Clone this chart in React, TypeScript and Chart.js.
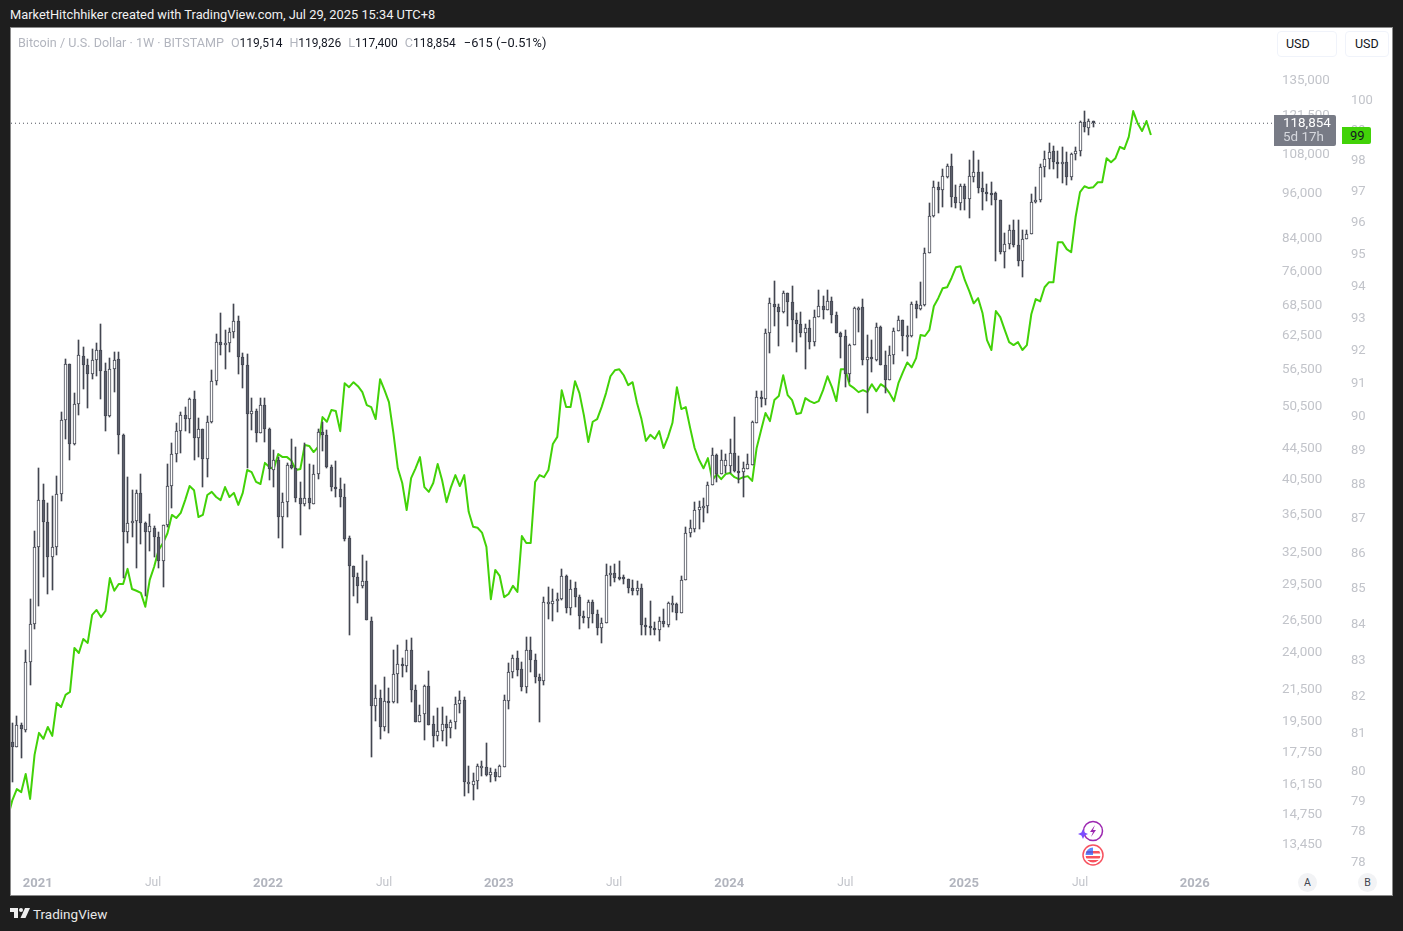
import React, { useEffect, useRef } from "react";
import { Chart, registerables } from "chart.js";

Chart.register(...registerables);

const closeSymbol = "Bitcoin / U.S. Dollar · 1W · BITSTAMP";
const attribution = "MarketHitchhiker created with TradingView.com, Jul 29, 2025 15:34 UTC+8";

const opens = [18360,18090,19330,19040,23380,26220,33070,38100,35670,32090,33070,38820,48520,57500,45140,50920,58900,57330,55790,58200,59950,56290,49110,56620,58380,46380,34600,35560,35770,38930,35560,34600,35020,34090,31710,35340,39760,43790,46940,49260,48660,51700,45950,47220,43130,48230,54640,61430,60880,61250,63320,65460,58730,57330,49410,49850,46660,50770,47220,41730,43000,36210,37870,42370,41980,38340,37650,38340,37650,41230,46800,46380,42110,39650,39410,38460,33980,31240,30220,29400,29850,26460,20470,20960,19210,20780,20720,22550,23240,23100,24240,21490,19500,19980,21750,19390,18700,18980,19390,19160,19500,20590,20840,16210,16140,16330,17060,17040,16630,16780,16530,17040,20780,22690,23660,22890,21690,24240,23520,22350,22080,28010,27850,28100,28270,30310,27510,29230,28440,26860,26700,28010,27030,25910,26300,30400,30580,30220,30220,30030,29230,28960,29230,26150,26070,25910,25750,26460,26150,27930,27850,27110,29940,34500,34920,36970,37420,37420,39890,43660,41230,42240,42240,43920,41600,41480,41850,42370,48090,52020,51700,63130,68880,68270,67250,71240,69290,65650,64870,63130,64090,61430,66250,68470,67650,69490,66650,63130,62590,55790,60880,68060,68270,58200,58730,58200,64280,57330,54800,59080,63510,65650,62750,62590,68880,67850,68670,80380,89880,98070,97200,101100,104540,95170,93460,98400,94580,101100,102680,97800,96620,96330,96330,94300,80620,82600,86150,82350,78470,83850,85130,93740,94300,104230,106730,109370,105780,105780,105780,101100,108380,109370,119340,117200,119514];
const highs = [19450,19860,19450,24240,28260,34710,41980,40010,37760,38580,41000,49700,58380,57500,52670,61800,60510,58380,60130,61250,64870,57680,58550,59600,59600,46520,40860,39290,39290,41230,35670,36530,35240,34600,35340,42490,45270,48090,49700,50460,51860,52990,48810,47220,49110,56450,62940,67050,63700,64090,68880,66450,59430,59250,51860,50150,51860,51860,47360,44320,43380,38930,42620,45820,44730,40250,45270,42490,42370,47220,48230,47080,42370,42870,40730,40010,34190,31240,30580,32290,31710,26780,21820,21490,22350,21620,24240,24620,23660,24990,25140,21820,20530,21820,22750,19860,20340,20400,19860,19620,21030,21420,21030,17090,16730,17190,17350,18300,16980,16930,17140,21170,23310,23880,24170,23380,25220,25220,23950,22550,28440,29320,29140,28790,30950,30400,29940,29760,28620,27270,28180,28180,27350,26700,31420,31240,31420,31710,30400,30030,29940,29850,29580,26700,28100,26380,26780,27430,28010,28530,27930,30310,35130,35880,37870,37990,38340,40250,44590,43790,44320,43790,45820,48960,43510,42750,43790,48380,52990,52990,63890,70110,73880,68880,71680,71240,72780,67050,67250,64870,65650,67650,71900,70580,71900,70360,67250,63320,63700,61070,68270,68270,69920,62750,61800,65070,64480,59780,60690,64090,66450,65650,64480,69290,69490,73660,81580,93460,99900,99600,103610,105160,108380,98700,99000,99000,106400,109370,106400,102680,99000,99600,96620,94300,85380,87480,88800,88800,86150,86150,96040,98100,105160,109370,112010,111020,109370,110690,109040,108710,110690,119700,123340,120420,119826];
const lows = [16240,18090,17500,18930,21820,25830,27680,30220,28700,29050,32290,37990,45820,43000,45000,49260,53310,50300,54970,55460,51700,46940,48960,52830,43790,30120,33480,34090,31050,33380,28530,32680,32090,31050,29320,35130,37200,42750,43920,46940,46660,43000,43380,39650,40860,48090,53980,59080,56620,59600,62180,55790,53470,41980,47080,45410,46660,45410,40490,39650,33980,32980,36210,41850,37870,34300,37420,37080,37650,40610,44190,41980,39170,38460,37310,33680,25370,28530,27930,29230,26540,17560,19560,18530,18980,18870,20660,20660,22350,22690,20720,19500,19500,18470,19330,18090,18410,18410,18140,18580,19100,20040,15610,15750,15420,15940,16580,16580,16240,16290,16530,17040,20280,22280,22420,21420,21300,22690,21950,19500,21820,26620,26460,27190,28180,27110,26950,27600,25830,26300,25910,26300,25370,24770,26300,29400,29760,29940,29580,28790,28620,28620,25370,25370,25370,25370,24920,25990,25990,27190,26540,27110,29940,34090,34600,34920,35670,36640,39890,40250,41230,41360,41360,41480,40130,38460,41850,42370,48090,50460,50770,59430,64480,60690,67050,64480,61430,59600,62360,56620,60130,60690,66250,65850,67650,65070,63130,58550,53640,54470,60880,63320,57330,49560,56120,58030,57330,52670,54800,57500,63510,59780,58900,62360,66050,67650,68470,80380,89610,90690,92310,100800,92310,92040,91500,91500,89340,99600,96330,91500,94020,92900,78470,80140,76800,81350,81850,77300,74770,83850,85130,93460,93740,101100,103610,103610,100800,99300,98700,100200,106400,107640,115800,114750,117400];
const closes = [18090,19330,19100,23380,26220,33070,38100,35670,32090,33070,38820,48520,57500,45140,50920,59080,57330,55790,58200,59950,56290,49110,56620,58200,46380,34600,35560,35770,38930,35560,34600,35240,34090,31710,35340,39760,43790,46940,49260,48660,51700,45950,47220,43130,48230,54640,61430,60880,61250,63320,65460,58730,57330,49410,49850,46660,50770,47220,41850,43000,36210,37870,42370,41980,38340,37650,38340,37760,41230,46800,46380,42110,39650,39410,38460,33880,31240,30220,29400,29850,26540,20470,20960,19210,20780,20750,22550,23240,23100,24240,21490,19500,19920,21750,19330,18700,18980,19390,19160,19500,20590,20840,16240,16240,16330,17090,17090,16630,16780,16530,17090,20840,22690,23660,22820,21690,24240,23520,22350,22080,28010,28040,28100,28270,30310,27510,29140,28440,26860,26700,28010,27030,25910,26300,30400,30580,30120,30180,30030,29230,28960,29230,26150,26070,25910,25750,26460,26220,27930,27960,27110,29940,34500,35020,36970,37310,37460,39890,43660,41230,43000,43000,43920,41600,41480,41980,42490,48230,52020,51700,63130,69090,68270,67250,71240,69290,65650,64870,63130,64090,61430,66250,68470,67650,69490,66650,63130,62360,55790,60880,68060,68100,58200,58730,58380,64280,57330,54800,59080,63510,65650,62590,62790,68880,67850,68670,80380,89880,98070,97200,101400,104540,95170,93460,98400,94580,101400,102680,97800,96620,96040,96290,94300,80620,82600,86150,82350,78470,83850,85130,93740,94300,104230,106730,109040,105780,105750,105800,101100,108380,109370,119340,117550,119700,118854];

const lineValues = [78.76,79.2,79.49,79.41,79.89,79.23,80.4,80.99,80.83,81.15,80.91,81.8,81.69,82.02,82.1,83.31,83.17,83.56,83.45,84.23,84.37,84.17,84.34,85.27,84.91,85.1,85.1,85.53,84.96,84.91,84.85,84.46,85.22,85.59,86.07,86.27,86.55,87.08,86.99,87.14,87.51,87.92,87.8,87.02,87.08,87.66,87.75,87.6,87.51,87.89,87.6,87.72,87.37,87.72,88.39,88.33,88.04,87.98,88.6,88.48,88.42,88.86,88.77,88.77,88.66,88.39,88.42,89.13,89.1,88.92,89.07,89.96,89.82,90.17,90.14,89.54,90.98,90.86,91.01,90.89,90.71,90.32,90.26,89.9,91.1,90.77,90.41,89.49,88.44,88.01,87.22,88.15,88.44,88.77,87.89,87.75,88.01,88.57,88.09,87.45,87.89,88.24,87.92,88.24,87.17,86.74,86.71,86.57,86.16,84.67,85.5,85.33,84.73,84.82,85.05,84.88,86.47,86.27,86.27,88.04,88.24,88.18,88.39,89.16,89.37,90.77,90.26,90.26,91.04,90.68,90.02,89.22,89.82,89.9,90.26,90.68,91.19,91.37,91.4,91.22,90.92,91.01,90.38,89.9,89.25,89.43,89.31,89.54,89.04,89.37,89.79,90.86,90.2,90.26,89.63,89.04,88.69,88.44,88.74,88.09,88.27,88.12,88.27,88.3,88.18,88.12,88.18,88.21,88.07,89.04,89.57,90.08,89.84,90.47,90.59,91.22,90.62,90.47,90.05,90.08,90.53,90.44,90.38,90.44,90.77,91.19,90.86,90.44,91.4,91.4,90.92,90.83,90.71,90.77,90.71,90.95,90.74,90.95,90.86,90.68,90.44,90.98,91.31,91.61,91.46,91.74,92.45,92.42,92.61,93.34,93.59,93.9,93.93,94.22,94.56,94.59,94.15,93.81,93.43,93.59,93.12,92.29,91.99,93.19,93,92.61,92.23,92.14,92.23,91.99,92.14,93.09,93.56,93.49,93.93,94.09,94.09,95.35,95.35,95.13,95.03,96.15,96.95,97.14,97.08,97.11,97.27,97.27,98.05,97.92,98.05,98.42,98.35,98.75,99.6,99.2,98.94,99.27,98.81];
const lineFirstWeek = -1;

const priceTicks = [135000,121500,108000,96000,84000,76000,68500,62500,56500,50500,44500,40500,36500,32500,29500,26500,24000,21500,19500,17750,16150,14750,13450];
const dxyTicks = [100,99,98,97,96,95,94,93,92,91,90,89,88,87,86,85,84,83,82,81,80,79.2,78.4,77.6];
const timeTickWeeks = [5.71,31.74,57.7,83.9,109.8,135.8,161.8,188,214.8,241,266.9];
const timeTickLabels = ["2021","Jul","2022","Jul","2023","Jul","2024","Jul","2025","Jul","2026"];

const UI_FONT = "Roboto, 'Noto Sans', sans-serif";
const GREEN = "#42d208";
const CANDLE_EDGE = "#434651";
const CANDLE_DOWN = "#5d606b";
const TICK_COLOR = "#c2c4ca";

const snapBars = {
  id: "snapBars",
  beforeDatasetsDraw(chart: any) {
    chart.getSortedVisibleDatasetMetas().forEach((meta: any) => {
      if (meta.type !== "bar") return;
      meta.data.forEach((el: any) => {
        el.x = Math.round(el.x - 0.5) + 0.5;
        const top = Math.round(Math.min(el.y, el.base));
        let bottom = Math.round(Math.max(el.y, el.base));
        const minSize = meta.index === 0 ? 2 : 1;
        if (bottom - top < minSize) bottom = top + minSize;
        el.y = top;
        el.base = bottom;
      });
    });
  },
};

const clearPadding = (s: any) => {
  s.paddingTop = 0;
  s.paddingBottom = 0;
  s.paddingLeft = 0;
  s.paddingRight = 0;
};

export default function App() {
  const ref = useRef<HTMLCanvasElement | null>(null);
  useEffect(() => {
    const xMin = -0.316;
    const xMax = 284.56;
    const bodies = opens.map((o, i) => ({ x: i, y: [o, closes[i]] }));
    const wicks = highs.map((h, i) => ({ x: i, y: [lows[i], h] }));
    const isYear = (c: any) => /\d/.test(String(c.tick?.label ?? ""));
    const chart = new Chart(ref.current as HTMLCanvasElement, {
      type: "bar",
      plugins: [snapBars],
      data: {
        datasets: [
          {
            label: "body",
            data: bodies as any,
            xAxisID: "x",
            yAxisID: "yPrice",
            barThickness: 3,
            grouped: false,
            borderWidth: 1,
            borderSkipped: false,
            borderColor: CANDLE_EDGE,
            backgroundColor: opens.map((o, i) => (closes[i] >= o ? "#ffffff" : CANDLE_DOWN)),
            order: 0,
          },
          {
            label: "wick",
            data: wicks as any,
            xAxisID: "x",
            yAxisID: "yPrice",
            barThickness: 1,
            grouped: false,
            borderWidth: 0,
            backgroundColor: CANDLE_EDGE,
            order: 1,
          },
          {
            type: "line",
            label: "line",
            data: lineValues.map((v, i) => ({ x: lineFirstWeek + i, y: v })) as any,
            xAxisID: "x",
            yAxisID: "yDxy",
            borderColor: GREEN,
            borderWidth: 2,
            pointRadius: 0,
            tension: 0,
            borderJoinStyle: "round",
            order: 2,
          },
          {
            type: "line",
            label: "last",
            data: [{ x: xMin, y: closes[closes.length - 1] }, { x: xMax, y: closes[closes.length - 1] }] as any,
            xAxisID: "x",
            yAxisID: "yPrice",
            borderColor: "#50535e",
            borderWidth: 1,
            borderDash: [1, 3],
            pointRadius: 0,
            order: 3,
          },
        ],
      },
      options: {
        animation: false,
        responsive: false,
        events: [],
        layout: { padding: 0 },
        plugins: { legend: { display: false }, tooltip: { enabled: false } },
        scales: {
          x: {
            type: "linear",
            position: "bottom",
            offset: false,
            min: xMin,
            max: xMax,
            grid: { display: false, drawTicks: false },
            border: { display: false },
            afterBuildTicks: (s: any) => { s.ticks = timeTickWeeks.map((value) => ({ value })); },
            afterFit: (s: any) => { s.height = 27; clearPadding(s); },
            ticks: {
              autoSkip: false,
              maxRotation: 0,
              padding: 8,
              color: (c: any) => (isYear(c) ? "#b2b5be" : "#c2c4ca"),
              font: (c: any) => (isYear(c)
                ? { family: UI_FONT, size: 13, weight: "bold" }
                : { family: UI_FONT, size: 12, weight: "normal" }) as any,
              callback: (v: any) => timeTickLabels[timeTickWeeks.indexOf(v)],
            },
          },
          yPrice: {
            type: "logarithmic",
            position: "right",
            bounds: "data",
            min: 12545,
            max: 158450,
            grid: { display: false, drawTicks: false },
            border: { display: false },
            afterBuildTicks: (s: any) => { s.ticks = priceTicks.map((value) => ({ value })); },
            afterFit: (s: any) => { s.width = 69; clearPadding(s); },
            ticks: {
              autoSkip: false,
              padding: 9,
              color: TICK_COLOR,
              font: { family: UI_FONT, size: 13.4 },
              callback: (v: any) => Number(v).toLocaleString("en-US"),
            },
          },
          yDxy: {
            type: "logarithmic",
            position: "right",
            bounds: "data",
            min: 77.43,
            max: 102.39,
            grid: { display: false, drawTicks: false },
            border: { display: false },
            afterBuildTicks: (s: any) => { s.ticks = dxyTicks.map((value) => ({ value })); },
            afterFit: (s: any) => { s.width = 50; clearPadding(s); },
            ticks: {
              autoSkip: false,
              padding: 9,
              labelOffset: 1.5,
              color: TICK_COLOR,
              font: { family: UI_FONT, size: 13 },
              callback: (v: any) => String(Math.round(Number(v))),
            },
          },
        },
      },
    } as any);
    return () => chart.destroy();
  }, []);

  const abs = (l: number, t: number, extra: React.CSSProperties = {}): React.CSSProperties => ({
    position: "absolute",
    left: l,
    top: t,
    whiteSpace: "nowrap",
    ...extra,
  });
  const gray = { color: "#b2b5be" };
  const sep = { ...gray, marginLeft: 7, fontSize: 12.6 };

  return (
    <div style={{ position: "fixed", left: 0, top: 0, width: 1403, height: 931, background: "#1e1e1e", overflow: "hidden", fontFamily: UI_FONT }}>
      <div style={abs(10, 7, { color: "#f2f2f2", fontSize: 12.85, lineHeight: "16px" })}>{attribution}</div>
      <div style={abs(10, 27, { width: 1383, height: 869, boxSizing: "border-box", border: "1px solid #8a8a8a", background: "#fff" })} />
      <canvas ref={ref} width={1381} height={867} style={abs(11, 28, { width: 1381, height: 867, display: "block" })} />
      <div style={abs(18, 35, { color: "#131722", fontSize: 12, lineHeight: "16px" })}>
        <span style={{ ...gray, fontSize: 12.6 }}>{closeSymbol}</span>
        <span style={sep}>O</span>119,514
        <span style={sep}>H</span>119,826
        <span style={sep}>L</span>117,400
        <span style={sep}>C</span>118,854
        <span style={{ marginLeft: 8, fontSize: 12.8 }}>−615 (−0.51%)</span>
      </div>
      <div style={abs(1277, 31, { width: 60, height: 26, boxSizing: "border-box", border: "1px solid #f0f3fa", borderRadius: 4, background: "#fff", color: "#131722", fontSize: 12.5, lineHeight: "24px", paddingLeft: 8 })}>USD</div>
      <div style={abs(1345, 31, { width: 44, height: 26, boxSizing: "border-box", border: "1px solid #f0f3fa", borderRadius: 4, background: "#fff", color: "#131722", fontSize: 12.5, lineHeight: "24px", paddingLeft: 9 })}>USD</div>
      <div style={abs(1274, 115, { width: 62, height: 31, background: "#787b86", borderRadius: "0 2px 2px 0", color: "#fff", fontSize: 13.4, lineHeight: "14px" })}>
        <div style={{ paddingLeft: 9, paddingTop: 1 }}>118,854</div>
        <div style={{ paddingLeft: 9, color: "#d6d8de" }}>5d 17h</div>
      </div>
      <div style={abs(1342, 127, { width: 29, height: 17, background: GREEN, borderRadius: "0 2px 2px 0", color: "#131722", fontSize: 13, lineHeight: "17px", paddingLeft: 8, boxSizing: "border-box" })}>99</div>
      <svg style={abs(1076, 818)} width="32" height="50" viewBox="0 0 32 50">
        <circle cx="17" cy="13" r="9.5" fill="#fff" stroke="#9c27b0" strokeWidth="1.5" />
        <path d="M19 7 L14 14 L17 14 L15 19 L20 12 L17 12 Z" fill="#9c27b0" />
        <path d="M7 11 L8.6 14.4 L12 16 L8.6 17.6 L7 21 L5.4 17.6 L2 16 L5.4 14.4 Z" fill="#7c4dff" />
        <circle cx="17" cy="37" r="10" fill="#fff" stroke="#f7525f" strokeWidth="1.5" />
        <clipPath id="fl"><circle cx="17" cy="37" r="7.5" /></clipPath>
        <g clipPath="url(#fl)">
          <rect x="9" y="29" width="16" height="16" fill="#fff" />
          <rect x="9" y="33" width="16" height="2.5" fill="#f7525f" />
          <rect x="9" y="38" width="16" height="2.5" fill="#f7525f" />
          <rect x="9" y="42" width="16" height="3" fill="#f7525f" />
          <rect x="9" y="29" width="8" height="8" fill="#2962ff" opacity="0.75" />
        </g>
      </svg>
      <div style={abs(1298, 873, { width: 19, height: 19, borderRadius: "50%", background: "#f2f3f5", color: "#434651", fontSize: 10.5, lineHeight: "19px", textAlign: "center" })}>A</div>
      <div style={abs(1358, 873, { width: 19, height: 19, borderRadius: "50%", background: "#f2f3f5", color: "#434651", fontSize: 10.5, lineHeight: "19px", textAlign: "center" })}>B</div>
      <svg style={abs(10, 908)} width="20" height="12" viewBox="0 0 20 12">
        <path d="M0 0 H8 V10 H4 V4 H0 Z" fill="#eee" />
        <circle cx="11" cy="2" r="2" fill="#eee" />
        <path d="M15 0 H20 L15.5 10 H10.5 Z" fill="#eee" />
      </svg>
      <div style={abs(33, 906, { color: "#e8e8e8", fontSize: 13.5, lineHeight: "16px" })}>TradingView</div>
    </div>
  );
}
